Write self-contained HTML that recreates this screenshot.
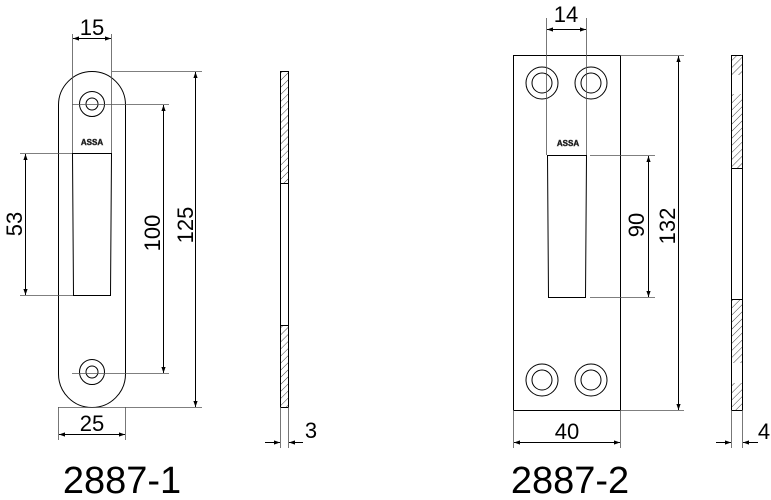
<!DOCTYPE html>
<html><head><meta charset="utf-8"><style>
html,body{margin:0;padding:0;background:#fff;width:771px;height:500px;overflow:hidden}
svg{display:block}
text{font-family:"Liberation Sans",Arial,sans-serif;fill:#000}
</style></head><body>
<svg width="771" height="500" viewBox="0 0 771 500" xmlns="http://www.w3.org/2000/svg">
<defs>
<marker id="a" viewBox="0 0 10 10" refX="10" refY="5" markerWidth="8" markerHeight="6" orient="auto-start-reverse" markerUnits="userSpaceOnUse"><path d="M0,1.5 L10,5 L0,8.5 z" fill="#000"/></marker>
<pattern id="h" width="5" height="5" patternUnits="userSpaceOnUse" patternTransform="rotate(45)"><line x1="0" y1="0" x2="0" y2="5" stroke="#444" stroke-width="1"/></pattern>
</defs>
<g fill="none" stroke="#000" stroke-width="1">
<rect x="58.5" y="71.5" width="67" height="336" rx="33.5" ry="33.5"/>
<circle cx="92" cy="104" r="12.5"/><circle cx="92" cy="104" r="6"/>
<circle cx="92" cy="372" r="12.5"/><circle cx="92" cy="372" r="6"/>
<path d="M72.5,153.5 L111.5,153.5 L110.5,295.5 L73.5,295.5 Z"/>
<g stroke="#555" stroke-width="0.8">
<line x1="72.5" y1="34" x2="72.5" y2="153"/><line x1="111.5" y1="34" x2="111.5" y2="153"/>
<line x1="20" y1="153.5" x2="72" y2="153.5"/><line x1="20" y1="295.5" x2="73" y2="295.5"/>
<line x1="72" y1="104.5" x2="169" y2="104.5"/><line x1="72" y1="373.5" x2="169" y2="373.5"/>
<line x1="112" y1="71.5" x2="202" y2="71.5"/><line x1="58" y1="407.5" x2="202" y2="407.5"/>
<line x1="58.5" y1="407" x2="58.5" y2="440"/><line x1="125.5" y1="407" x2="125.5" y2="440"/>
</g>
<line x1="73" y1="38.5" x2="111" y2="38.5" marker-start="url(#a)" marker-end="url(#a)"/>
<line x1="25.5" y1="154" x2="25.5" y2="295" marker-start="url(#a)" marker-end="url(#a)"/>
<line x1="163.5" y1="105" x2="163.5" y2="373" marker-start="url(#a)" marker-end="url(#a)"/>
<line x1="195.5" y1="72" x2="195.5" y2="407" marker-start="url(#a)" marker-end="url(#a)"/>
<line x1="59" y1="434.5" x2="125" y2="434.5" marker-start="url(#a)" marker-end="url(#a)"/>
<rect x="280" y="71" width="8" height="112" fill="url(#h)" stroke="none"/>
<rect x="280" y="325" width="8" height="82" fill="url(#h)" stroke="none"/>
<rect x="280.5" y="71.5" width="8" height="336"/>
<line x1="280" y1="183.5" x2="288" y2="183.5"/><line x1="280" y1="325.5" x2="288" y2="325.5"/>
<g stroke="#555" stroke-width="0.8"><line x1="280.5" y1="407" x2="280.5" y2="448"/><line x1="288.5" y1="407" x2="288.5" y2="448"/></g>
<line x1="265" y1="442.5" x2="280" y2="442.5" marker-end="url(#a)"/>
<line x1="303" y1="442.5" x2="289" y2="442.5" marker-end="url(#a)"/>
<rect x="513.5" y="55.5" width="107" height="355"/>
<circle cx="542" cy="83" r="16"/><circle cx="542" cy="83" r="10"/>
<circle cx="591" cy="83" r="16"/><circle cx="591" cy="83" r="10"/>
<circle cx="542" cy="380" r="16"/><circle cx="542" cy="380" r="10"/>
<circle cx="591" cy="380" r="16"/><circle cx="591" cy="380" r="10"/>
<path d="M547.5,155.5 L586.5,155.5 L585.5,297.5 L548.5,297.5 Z"/>
<g stroke="#555" stroke-width="0.8">
<line x1="546.5" y1="18" x2="546.5" y2="155"/><line x1="586.5" y1="18" x2="586.5" y2="155"/>
<line x1="590" y1="155.5" x2="655" y2="155.5"/><line x1="590" y1="297.5" x2="655" y2="297.5"/>
<line x1="620" y1="55.5" x2="684" y2="55.5"/><line x1="620" y1="410.5" x2="684" y2="410.5"/>
<line x1="513.5" y1="410" x2="513.5" y2="448"/><line x1="620.5" y1="410" x2="620.5" y2="448"/>
</g>
<line x1="547" y1="29.5" x2="586" y2="29.5" marker-start="url(#a)" marker-end="url(#a)"/>
<line x1="648.5" y1="156" x2="648.5" y2="297" marker-start="url(#a)" marker-end="url(#a)"/>
<line x1="678.5" y1="56" x2="678.5" y2="410" marker-start="url(#a)" marker-end="url(#a)"/>
<line x1="514" y1="442.5" x2="620" y2="442.5" marker-start="url(#a)" marker-end="url(#a)"/>
<rect x="731" y="55" width="11" height="20" fill="url(#h)" stroke="none"/>
<rect x="731" y="94" width="11" height="74" fill="url(#h)" stroke="none"/>
<rect x="731" y="299" width="11" height="64" fill="url(#h)" stroke="none"/>
<rect x="731" y="383" width="11" height="27" fill="url(#h)" stroke="none"/>
<rect x="731.5" y="55.5" width="11" height="355"/>
<line x1="731" y1="168.5" x2="742" y2="168.5"/><line x1="731" y1="299.5" x2="742" y2="299.5"/>
<g stroke="#555" stroke-width="0.8"><line x1="731.5" y1="410" x2="731.5" y2="448"/><line x1="742.5" y1="410" x2="742.5" y2="448"/></g>
<line x1="716" y1="442.5" x2="731" y2="442.5" marker-end="url(#a)"/>
<line x1="758" y1="442.5" x2="743" y2="442.5" marker-end="url(#a)"/>
</g>
<text x="92" y="145" font-size="8" text-anchor="middle" font-weight="bold" fill="none" stroke="#444" stroke-width="0.5">ASSA</text>
<text x="568" y="146" font-size="8" text-anchor="middle" font-weight="bold" fill="none" stroke="#444" stroke-width="0.5">ASSA</text>
<g font-size="22">
<text x="92" y="35" text-anchor="middle">15</text>
<text x="92" y="431" text-anchor="middle">25</text>
<text x="311" y="438" text-anchor="middle">3</text>
<text transform="translate(22,224) rotate(-90)" text-anchor="middle">53</text>
<text transform="translate(160,233) rotate(-90)" text-anchor="middle">100</text>
<text transform="translate(193,225) rotate(-90)" text-anchor="middle">125</text>
<text x="566" y="22" text-anchor="middle">14</text>
<text x="567" y="439" text-anchor="middle">40</text>
<text x="764" y="439" text-anchor="middle">4</text>
<text transform="translate(644,225) rotate(-90)" text-anchor="middle">90</text>
<text transform="translate(675,226) rotate(-90)" text-anchor="middle">132</text>
</g>
<text x="122" y="493" font-size="38" text-anchor="middle">2887-1</text>
<text x="570" y="493" font-size="38" text-anchor="middle">2887-2</text>
</svg>
</body></html>
